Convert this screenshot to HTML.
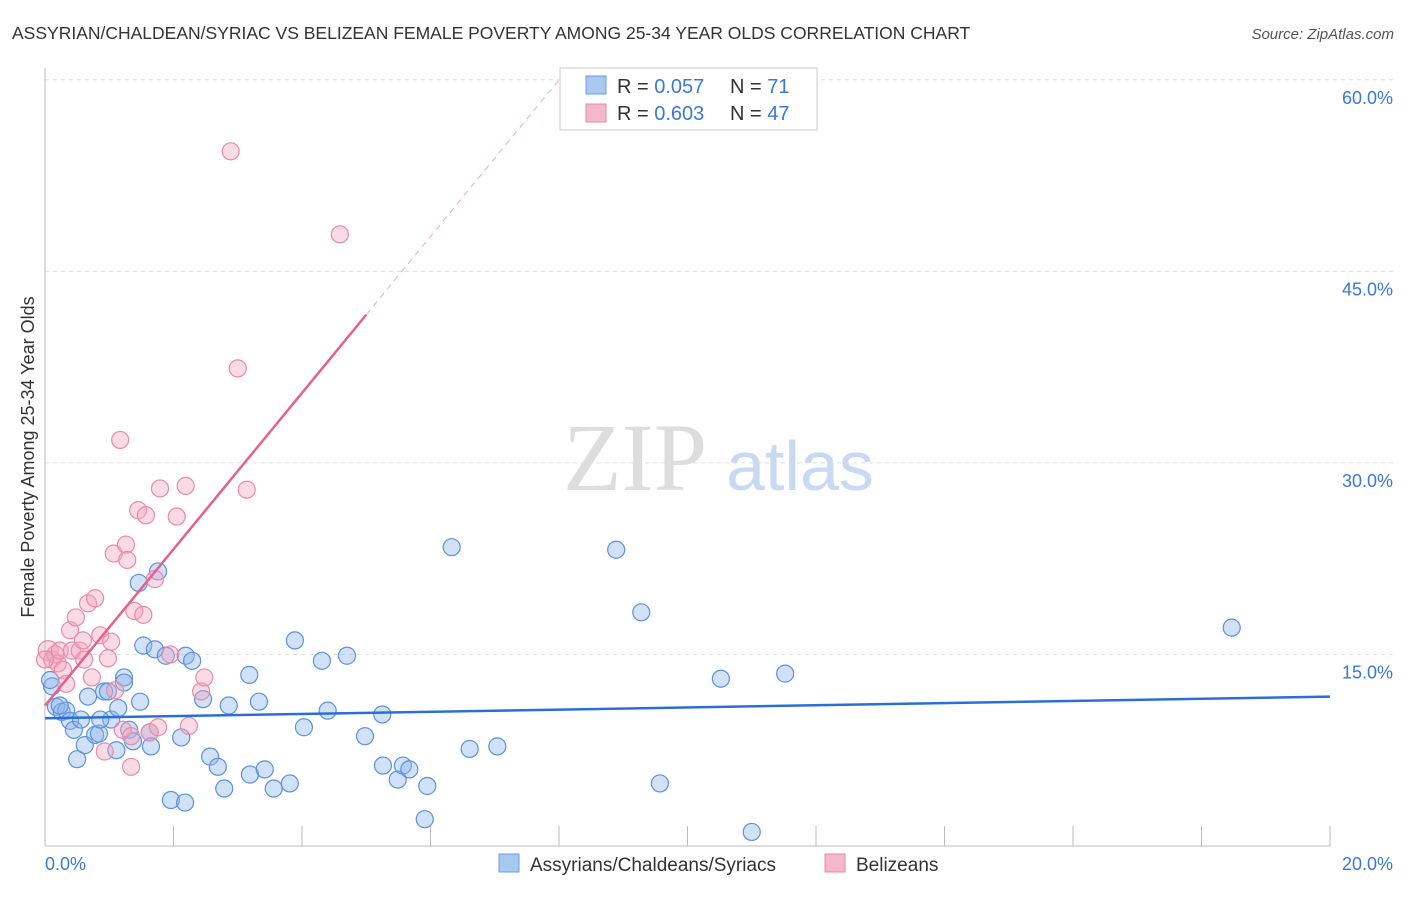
<!DOCTYPE html>
<html><head><meta charset="utf-8"><style>
body{margin:0;background:#fff;font-family:"Liberation Sans",sans-serif}
#wrap{position:relative;width:1406px;height:892px}
</style></head><body>
<div id="wrap">
<svg id="svg" width="1406" height="892" xmlns="http://www.w3.org/2000/svg">
<text x="12" y="39" font-size="17.5" fill="#333">ASSYRIAN/CHALDEAN/SYRIAC VS BELIZEAN FEMALE POVERTY AMONG 25-34 YEAR OLDS CORRELATION CHART</text>
<text x="1394" y="39" font-size="15" fill="#555" font-style="italic" text-anchor="end">Source: ZipAtlas.com</text>
<text x="635" y="490" font-size="96" fill="#ddd" font-family="Liberation Serif,serif" text-anchor="middle">ZIP</text>
<text x="800" y="490" font-size="70" fill="#c8daf3" text-anchor="middle">atlas</text>
<text transform="translate(34,457) rotate(-90)" font-size="18" fill="#333" text-anchor="middle">Female Poverty Among 25-34 Year Olds</text>
<g id="grid"></g><g id="pts"></g><g id="lines"></g>
<g>
<rect x="560" y="68" width="257" height="62" fill="#fff" stroke="#ccc"/>
<rect x="586" y="76" width="20" height="18" fill="#a9c8f0" stroke="#6a9de0"/>
<rect x="586" y="104" width="20" height="18" fill="#f5b8cb" stroke="#e888a8"/>
<text x="617" y="93" font-size="20" fill="#333">R = <tspan fill="#3a78d8">0.057</tspan></text>
<text x="730" y="93" font-size="20" fill="#333">N =  <tspan fill="#3a78d8">71</tspan></text>
<text x="617" y="120" font-size="20" fill="#333">R = <tspan fill="#3a78d8">0.603</tspan></text>
<text x="730" y="120" font-size="20" fill="#333">N = <tspan fill="#3a78d8">47</tspan></text>
</g>
<g>
<rect x="499" y="854" width="20" height="18" fill="#a9c8f0" stroke="#6a9de0"/>
<text x="530" y="871" font-size="19" fill="#333">Assyrians/Chaldeans/Syriacs</text>
<rect x="825" y="854" width="20" height="18" fill="#f5b8cb" stroke="#e888a8"/>
<text x="856" y="871" font-size="19" fill="#333">Belizeans</text>
</g>
</svg>
</div>
<script>
const yTicks=[15,30,45,60];
const xTickVals=[0,2,4,6,8,10,12,14,16,18,20];
const blueX=[0.11,0.17,0.26,0.33,0.39,0.45,0.5,0.56,0.62,0.67,0.78,0.84,0.92,0.98,1.03,1.11,1.14,1.23,1.23,1.31,1.37,1.48,1.46,1.53,1.63,1.65,1.71,1.76,1.88,1.96,2.12,2.19,2.18,2.29,2.46,2.57,2.69,2.79,2.86,3.18,3.19,3.33,3.42,3.56,3.81,3.89,4.03,4.31,4.40,4.70,4.98,5.25,5.26,5.49,5.57,5.67,5.95,5.91,6.33,6.61,7.04,8.89,9.28,9.57,10.52,11.0,11.52,18.47,0.08,0.86,0.23];
const blueY=[12.5,10.9,10.5,10.6,9.8,9.1,6.8,9.9,7.9,11.7,8.7,8.8,12.1,12.1,9.9,7.5,10.8,13.2,12.8,9.1,8.2,11.3,20.6,15.7,8.9,7.8,15.4,21.5,14.9,3.6,8.5,14.9,3.4,14.5,11.5,7.0,6.2,4.5,11.0,13.4,5.6,11.3,6.0,4.5,4.9,16.1,9.3,14.5,10.6,14.9,8.6,10.3,6.3,5.2,6.3,6.0,4.7,2.1,23.4,7.6,7.8,23.2,18.3,4.9,13.1,1.1,13.5,17.1,13.0,9.9,11.0];
const pinkX=[0.05,0.11,0.16,0.2,0.23,0.28,0.33,0.39,0.42,0.48,0.54,0.59,0.61,0.67,0.73,0.78,0.86,0.93,0.98,1.03,1.09,1.07,1.17,1.21,1.26,1.28,1.34,1.39,1.45,1.53,1.57,1.63,1.71,1.76,1.79,1.95,2.05,2.19,2.24,2.43,2.48,2.89,3.0,3.14,4.59,1.34,0.0];
const pinkY=[15.3,14.6,15.0,14.3,15.3,13.8,12.7,16.9,15.3,17.9,15.3,16.1,14.6,19.0,13.2,19.4,16.5,7.4,14.7,16.0,12.2,22.9,31.8,9.1,23.6,22.4,8.6,18.4,26.3,18.1,25.9,8.9,20.9,9.3,28.0,15.0,25.8,28.2,9.4,12.1,13.2,54.4,37.4,27.9,47.9,6.2,14.6];
const blueLine=[[0,10.0],[20,11.7]];
const pinkSolid=[[0,11.0],[5.0,41.6]];
const pinkDash=[[5.0,41.6],[8.0,60.0]];
const NS="http://www.w3.org/2000/svg";
const X=v=>45+v*64.25, Y=v=>846-v*12.77;
function mk(t,a,p){const e=document.createElementNS(NS,t);for(const k in a)e.setAttribute(k,a[k]);p.appendChild(e);return e;}
const grid=document.getElementById('grid'),pts=document.getElementById('pts'),lines=document.getElementById('lines');
yTicks.forEach(v=>{
 const l=mk('line',{x1:45,x2:1394,y1:Y(v),y2:Y(v),stroke:'#ddd','stroke-dasharray':'4,4'},grid);
 
 
 const t=mk('text',{x:1393,y:Y(v)+24,'font-size':18,fill:'#3a78d8','text-anchor':'end'},grid);t.textContent=v.toFixed(1)+'%';
 
 
});
mk('line',{x1:45,x2:45,y1:68,y2:846,stroke:'#bbb'},grid);
mk('line',{x1:45,x2:1330,y1:846,y2:846,stroke:'#bbb'},grid);
xTickVals.forEach(v=>{
 const l=mk('line',{x1:X(v),x2:X(v),y1:826,y2:846,stroke:'#bbb'},grid);
 
 
});
[[0,'start'],[20,'end']].forEach(([v,a])=>{
 const t=mk('text',{x:v?1393:45,y:870,'font-size':18,fill:'#3a78d8','text-anchor':a},grid);t.textContent=v.toFixed(1)+'%';
 
 
});
blueX.forEach((x,i)=>{
 const c=mk('circle',{cx:X(x),cy:Y(blueY[i]),r:8.5,fill:'rgba(140,180,235,0.4)',stroke:'#5b92dd','stroke-width':1.2},pts);
 
 
});
pinkX.forEach((x,i)=>{
 const c=mk('circle',{cx:X(x),cy:Y(pinkY[i]),r:i==0?10:8.5,fill:'rgba(243,165,190,0.4)',stroke:'#e98aa9','stroke-width':1.2},pts);
 
 
});
const bl=mk('line',{x1:X(blueLine[0][0]),y1:Y(blueLine[0][1]),x2:X(blueLine[1][0]),y2:Y(blueLine[1][1]),stroke:'#2a6fd6','stroke-width':2.5},lines);


const ps=mk('line',{x1:X(pinkSolid[0][0]),y1:Y(pinkSolid[0][1]),x2:X(pinkSolid[1][0]),y2:Y(pinkSolid[1][1]),stroke:'#e8608a','stroke-width':2.5},lines);


const pd=mk('line',{x1:X(pinkDash[0][0]),y1:Y(pinkDash[0][1]),x2:X(pinkDash[1][0]),y2:Y(pinkDash[1][1]),stroke:'#f0a8bf','stroke-width':1,'stroke-dasharray':'6,5'},lines);


</script>
</body></html>
